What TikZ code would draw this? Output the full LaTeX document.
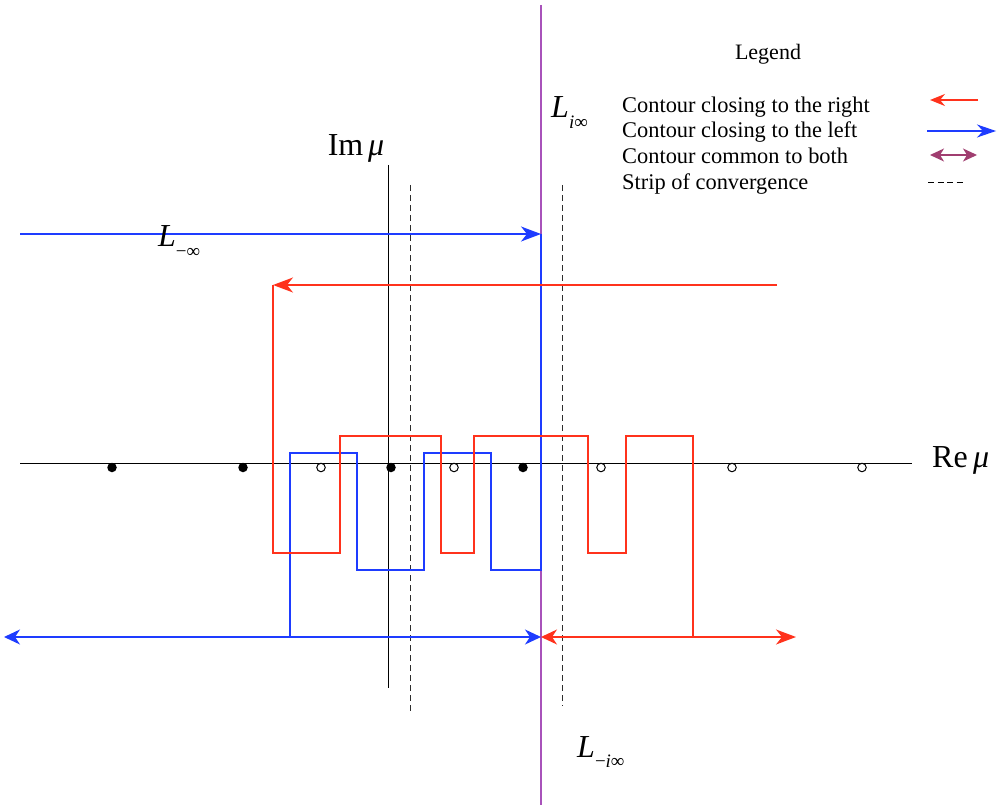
\documentclass[tikz,border=0pt]{standalone}
\usepackage{fontspec}
\setmainfont{Liberation Serif}
\usetikzlibrary{arrows.meta}
\definecolor{cred}{RGB}{255,50,28}
\definecolor{cblue}{RGB}{30,60,255}
\definecolor{cpurple}{RGB}{168,82,186}
\definecolor{cplum}{RGB}{160,62,112}
\definecolor{cdash}{RGB}{45,45,45}
\tikzset{
  bigtip/.tip={Stealth[length=20pt,width=15pt,inset=6pt]},
  lowtip/.tip={Stealth[length=16pt,width=15pt,inset=5pt]},
  smalltip/.tip={Stealth[length=15pt,width=12pt,inset=5pt]},
  bluetip/.tip={Stealth[length=19pt,width=13pt,inset=6pt]},
  plumtip/.tip={Stealth[length=14pt,width=13pt,inset=4pt]},
  redline/.style={draw=cred,line width=1.6pt},
  blueline/.style={draw=cblue,line width=1.6pt},
  axisline/.style={draw=black,line width=1pt},
  striplne/.style={draw=cdash,line width=1pt,dash pattern=on 6pt off 4pt},
  filledpole/.style={circle,fill=black,inner sep=0pt,minimum size=9.5pt},
  openpole/.style={circle,draw=black,fill=white,line width=1pt,inner sep=0pt,minimum size=8.5pt},
  legendtext/.style={anchor=base west,inner sep=0pt,font=\fontsize{22.4}{26}\selectfont},
  biglabel/.style={inner sep=0pt,font=\fontsize{32}{36}\selectfont}
}
\newcommand{\subsz}[1]{\raisebox{-0.32em}{\fontsize{19}{19}\selectfont #1}}
\begin{document}
\begin{tikzpicture}[x=1pt,y=-1pt]
\useasboundingbox (0,0) rectangle (1001,805);
% purple line L_{i infinity}
\coordinate (ptop) at (541,5);
\coordinate (pbot) at (541,805);
\draw[draw=cpurple,line width=1.4pt] (ptop) -- (pbot);
% axes
\coordinate (rel) at (20,463);
\coordinate (rer) at (912,463);
\coordinate (imt) at (388,165);
\coordinate (imb) at (388,688);
\draw[axisline] (rel) -- (rer);
\draw[axisline] (imt) -- (imb);
% strip of convergence
\coordinate (s1t) at (410,185);
\coordinate (s1b) at (410,712);
\coordinate (s2t) at (562,185);
\coordinate (s2b) at (562,706);
\draw[striplne] (s1t) -- (s1b);
\draw[striplne] (s2t) -- (s2b);
% blue contour
\coordinate (bl0) at (20,234);
\coordinate (bl1) at (541,234);
\draw[blueline,-bigtip] (bl0) -- (bl1);
\draw[blueline] (bl1) -- (541,570) -- (491,570) -- (491,453) -- (424,453) -- (424,570)
  -- (357,570) -- (357,453) -- (290,453) -- (290,637);
% red contour
\coordinate (rd0) at (777,285);
\coordinate (rd1) at (273,285);
\draw[redline,-bigtip] (rd0) -- (rd1);
\draw[redline] (rd1) -- (273,553) -- (340,553) -- (340,436) -- (441,436) -- (441,553)
  -- (474,553) -- (474,436) -- (588,436) -- (588,553) -- (626,553) -- (626,436)
  -- (693,436) -- (693,637);
% bottom lines
\coordinate (bb0) at (4,637);
\coordinate (bb1) at (541,637);
\coordinate (rb1) at (796,637);
\draw[blueline,lowtip-lowtip] (bb0) -- (bb1);
\draw[redline,lowtip-bigtip] (bb1) -- (rb1);
% poles
\foreach \x [count=\i] in {112,243,391,523}
  \node[filledpole] (f\i) at (\x,467.5) {};
\foreach \x [count=\i] in {321,454,601,732,862}
  \node[openpole] (o\i) at (\x,467.5) {};
% labels
\node[biglabel,anchor=base] (imlab) at (356,156) {Im\hspace{0.15em}\textit{μ}};
\node[biglabel,anchor=base west] (relab) at (932,467) {Re\,\textit{μ}};
\node[biglabel,anchor=base west] (lminf) at (158,247) {\textit{L}\subsz{−∞}};
\node[biglabel,anchor=base west] (liinf) at (551,118) {\textit{L}\subsz{\textit{i}∞}};
\node[biglabel,anchor=base west] (lmiinf) at (577,757) {\textit{L}\subsz{−\textit{i}∞}};
% legend
\node[inner sep=0pt,anchor=base,font=\fontsize{22}{26}\selectfont] (leg) at (768,60) {Legend};
\node[legendtext] (lg1) at (622,113) {Contour closing to the right};
\node[legendtext] (lg2) at (622,138) {Contour closing to the left};
\node[legendtext] (lg3) at (622,164) {Contour common to both};
\node[legendtext] (lg4) at (622,189.5) {Strip of convergence};
\coordinate (a1r) at (978,100);
\coordinate (a1l) at (930,100);
\draw[draw=cred,line width=1.3pt,-smalltip] (a1r) -- (a1l);
\coordinate (a2l) at (927,131);
\coordinate (a2r) at (996,131);
\draw[draw=cblue,line width=1.3pt,-bluetip] (a2l) -- (a2r);
\coordinate (a3l) at (930,155);
\coordinate (a3r) at (977,155);
\draw[draw=cplum,line width=1.3pt,plumtip-plumtip] (a3l) -- (a3r);
\coordinate (a4l) at (928,183);
\coordinate (a4r) at (964,183);
\draw[draw=black,line width=1pt,dash pattern=on 6pt off 3.5pt] (a4l) -- (a4r);
\end{tikzpicture}
\end{document}
